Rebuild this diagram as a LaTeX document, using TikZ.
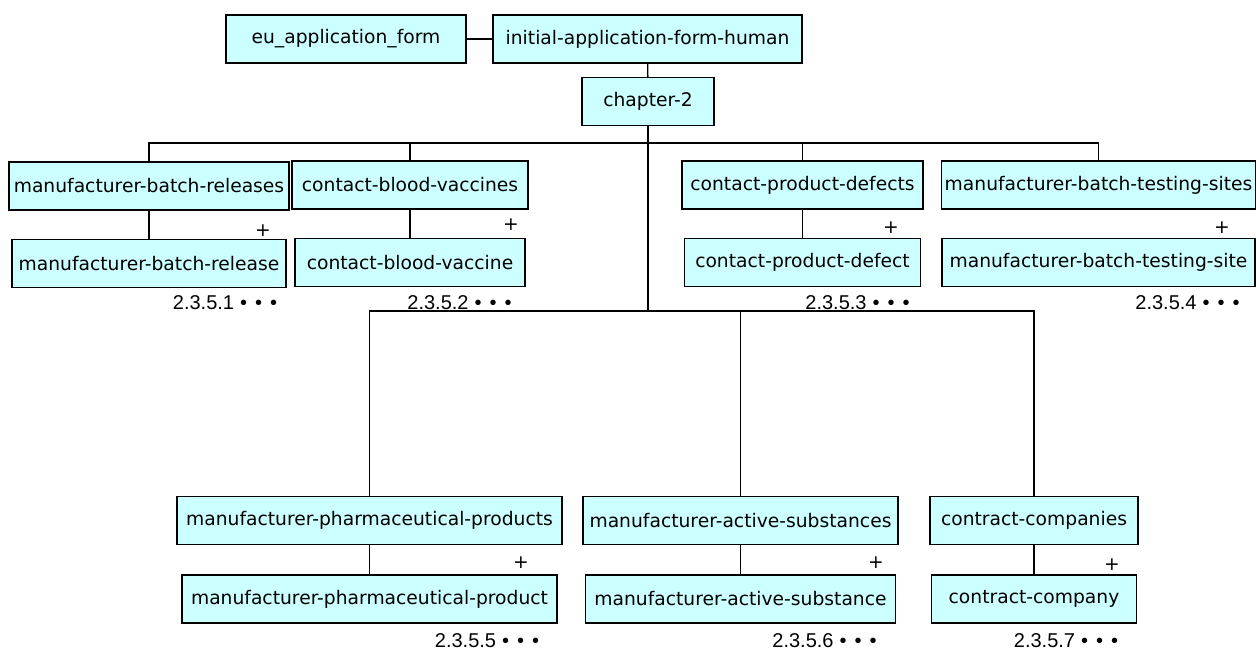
\documentclass[tikz,border=0pt]{standalone}
\usepackage{fontspec}
\setmainfont{DejaVu Sans}
\newfontfamily\numfont{Liberation Sans}
\usetikzlibrary{positioning}
\definecolor{boxcyan}{HTML}{CCFFFF}
\newcommand\seemore{\hspace{6pt}•\hspace{8pt}•\hspace{8pt}•}

\begin{document}
\begin{tikzpicture}[
  x=1pt, y=-1pt,
  font=\fontsize{18.7}{22}\selectfont,
  node distance=28pt,
  elem/.style={draw, fill=boxcyan, line width=1.4pt, inner sep=0pt, minimum height=48pt},
  link/.style={line width=1.4pt},
  plus/.style={inner sep=0pt},
  num/.style={font=\numfont\fontsize{20}{24}\selectfont, inner sep=0pt}
]
\useasboundingbox (0,0) rectangle (1256,652);
\node[elem, minimum width=240pt] (eu) at (346,39) {eu\_application\_form};
\node[elem, minimum width=309pt] (init) at (647.5,39) {initial-application-form-human};
\node[elem, minimum width=132pt] (chap) at (648,101.5) {chapter-2};
\node[elem, minimum width=280pt] (mbrs) at (149,186) {manufacturer-batch-releases};
\node[elem, minimum width=236pt] (cbvs) at (410,185) {contact-blood-vaccines};
\node[elem, minimum width=241pt] (cpds) at (802.5,185) {contact-product-defects};
\node[elem, minimum width=314pt] (mbts) at (1098.5,185) {manufacturer-batch-testing-sites};
\node[elem, minimum width=274pt, below=of mbrs] (mbr) {manufacturer-batch-release};
\node[elem, minimum width=230pt, below=of cbvs] (cbv) {contact-blood-vaccine};
\node[elem, minimum width=236pt, below=of cpds] (cpd) {contact-product-defect};
\node[elem, minimum width=313pt, below=of mbts] (mbt) {manufacturer-batch-testing-site};
\node[elem, minimum width=385pt] (mpps) at (369.5,520.5) {manufacturer-pharmaceutical-products};
\node[elem, minimum width=315pt] (mass) at (740.5,520.5) {manufacturer-active-substances};
\node[elem, minimum width=208pt] (ccs) at (1034,520.5) {contract-companies};
\node[elem, minimum width=375pt, below=29pt of mpps] (mpp) {manufacturer-pharmaceutical-product};
\node[elem, minimum width=310pt, below=29pt of mass] (mas) {manufacturer-active-substance};
\node[elem, minimum width=205pt, below=29pt of ccs] (cc) {contract-company};
\node[plus] (p1) at (263,231) {+};
\node[plus] (p2) at (511,225) {+};
\node[plus] (p3) at (891,228) {+};
\node[plus] (p4) at (1222,228) {+};
\node[plus] (p5) at (521,563) {+};
\node[plus] (p6) at (876,563) {+};
\node[plus] (p7) at (1112,565) {+};
\node[num] (n1) at (225,303) {2.3.5.1\seemore};
\node[num] (n2) at (459.5,303) {2.3.5.2\seemore};
\node[num] (n3) at (857.5,303) {2.3.5.3\seemore};
\node[num] (n4) at (1187.5,303) {2.3.5.4\seemore};
\node[num] (n5) at (487,641) {2.3.5.5\seemore};
\node[num] (n6) at (824.5,641) {2.3.5.6\seemore};
\node[num] (n7) at (1066,641) {2.3.5.7\seemore};
\coordinate (bus1) at (648,143);
\coordinate (bus2) at (648,311);
\draw[link] (eu) -- (init);
\draw[link] (init) -- (chap);
\draw[link] (chap) -- (bus1) -- (bus2);
\draw[link] (mbrs.north) |- (bus1);
\draw[link] (cbvs.north) |- (bus1);
\draw[link] (cpds.north) |- (bus1);
\draw[link] (mbts.north) |- (bus1);
\draw[link] (mpps.north) |- (bus2);
\draw[link] (mass.north) |- (bus2);
\draw[link] (ccs.north) |- (bus2);
\draw[link] (mbrs) -- (mbr);
\draw[link] (cbvs) -- (cbv);
\draw[link] (cpds) -- (cpd);
\draw[link] (mpps) -- (mpp);
\draw[link] (mass) -- (mas);
\draw[link] (ccs) -- (cc);
\end{tikzpicture}
\end{document}
